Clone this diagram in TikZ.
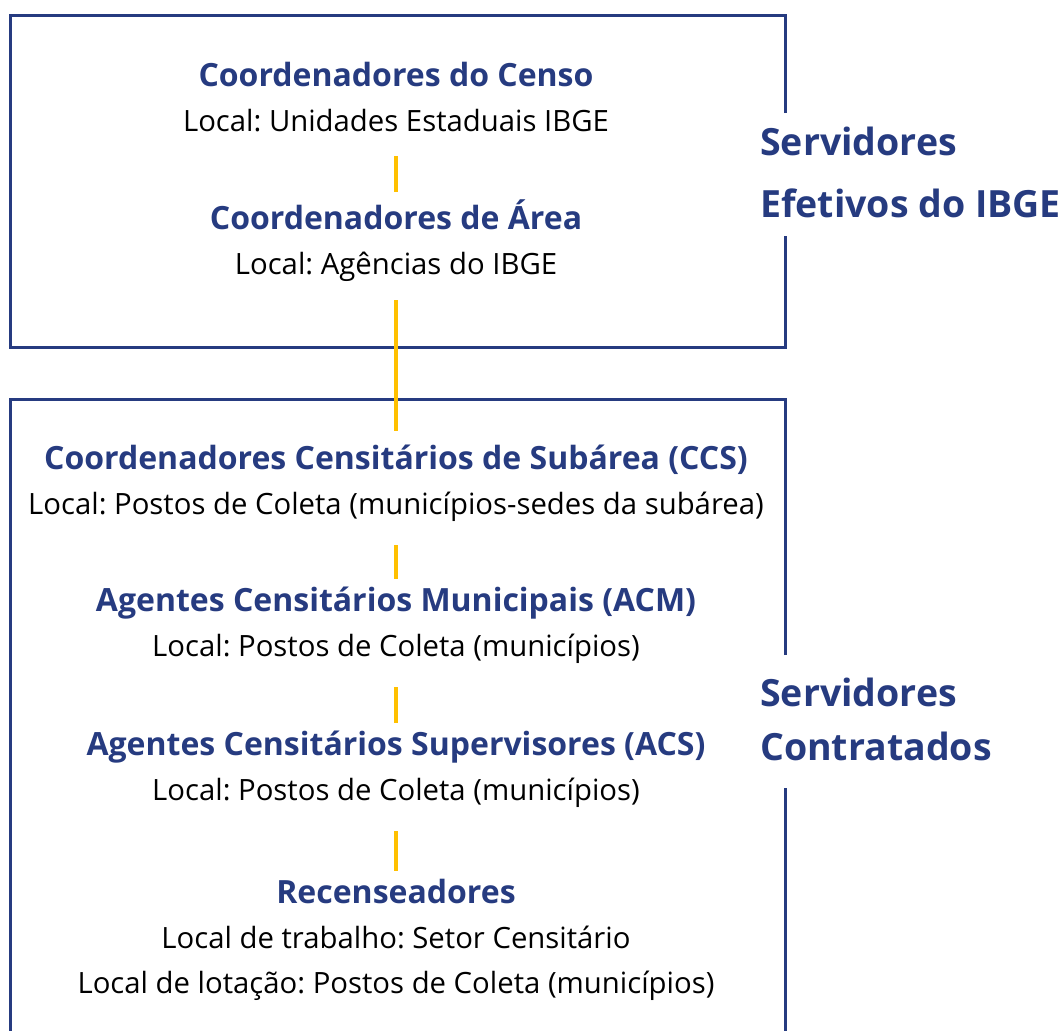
\documentclass[tikz,border=0pt]{standalone}
\usepackage{fontspec}
\setmainfont{Open Sans}
\definecolor{azul}{HTML}{263B80}
\definecolor{amarelo}{HTML}{FFC000}
\newcommand{\titulo}[1]{{\fontsize{32}{45}\selectfont\bfseries\color{azul}#1}}
\frenchspacing
\begin{document}
\begin{tikzpicture}[x=1pt, y=-1pt, nivel/.style={align=center, inner sep=0pt, font=\fontsize{29.3}{45}\selectfont\frenchspacing}, grupo/.style={anchor=west, align=left, inner sep=0pt, text=azul, font=\fontsize{37.5}{62}\selectfont\bfseries}, moldura/.style={draw=azul, line width=3pt}, elo/.style={draw=amarelo, line width=4pt, shorten <=24pt, shorten >=8pt}]
	\useasboundingbox (0,0) rectangle (1062,1031);
	% molduras
	\draw[moldura] (785,113) -- (785,15) -- (10,15) -- (10,347) -- (785,347) -- (785,236);
	\draw[moldura] (785,655) -- (785,399) -- (10,399) -- (10,1031);
	\draw[moldura] (785,788) -- (785,1031);
	\node[grupo] (efetivos) at (760,172) {Servidores\\Efetivos do IBGE};
	\node[grupo, font=\fontsize{37.5}{54}\selectfont\bfseries] (contratados) at (760,719) {Servidores\\Contratados};
	% niveis
	\node[nivel] (censo) at (396,97) {\titulo{Coordenadores do Censo}\\Local: Unidades Estaduais IBGE};
	\node[nivel] (area) at (396,241) {\titulo{Coordenadores de Área}\\Local: Agências do IBGE};
	\node[nivel] (ccs) at (396,483) {\titulo{Coordenadores Censitários de Subárea (CCS)}\\Local: Postos de Coleta (municípios-sedes da subárea)};
	\node[nivel] (acm) at (396,625) {\titulo{Agentes Censitários Municipais (ACM)}\\Local: Postos de Coleta (municípios)};
	\node[nivel] (acs) at (396,769) {\titulo{Agentes Censitários Supervisores (ACS)}\\Local: Postos de Coleta (municípios)};
	\node[nivel] (rec) at (396,940) {\titulo{Recenseadores}\\Local de trabalho: Setor Censitário\\Local de lotação: Postos de Coleta (municípios)};
	\draw[elo] (censo) -- (area);
	\draw[elo, shorten <=18pt, shorten >=14pt] (area) -- (ccs);
	\draw[elo] (ccs) -- (acm);
	\draw[elo] (acm) -- (acs);
	\draw[elo] (acs) -- (rec);
\end{tikzpicture}
\end{document}
